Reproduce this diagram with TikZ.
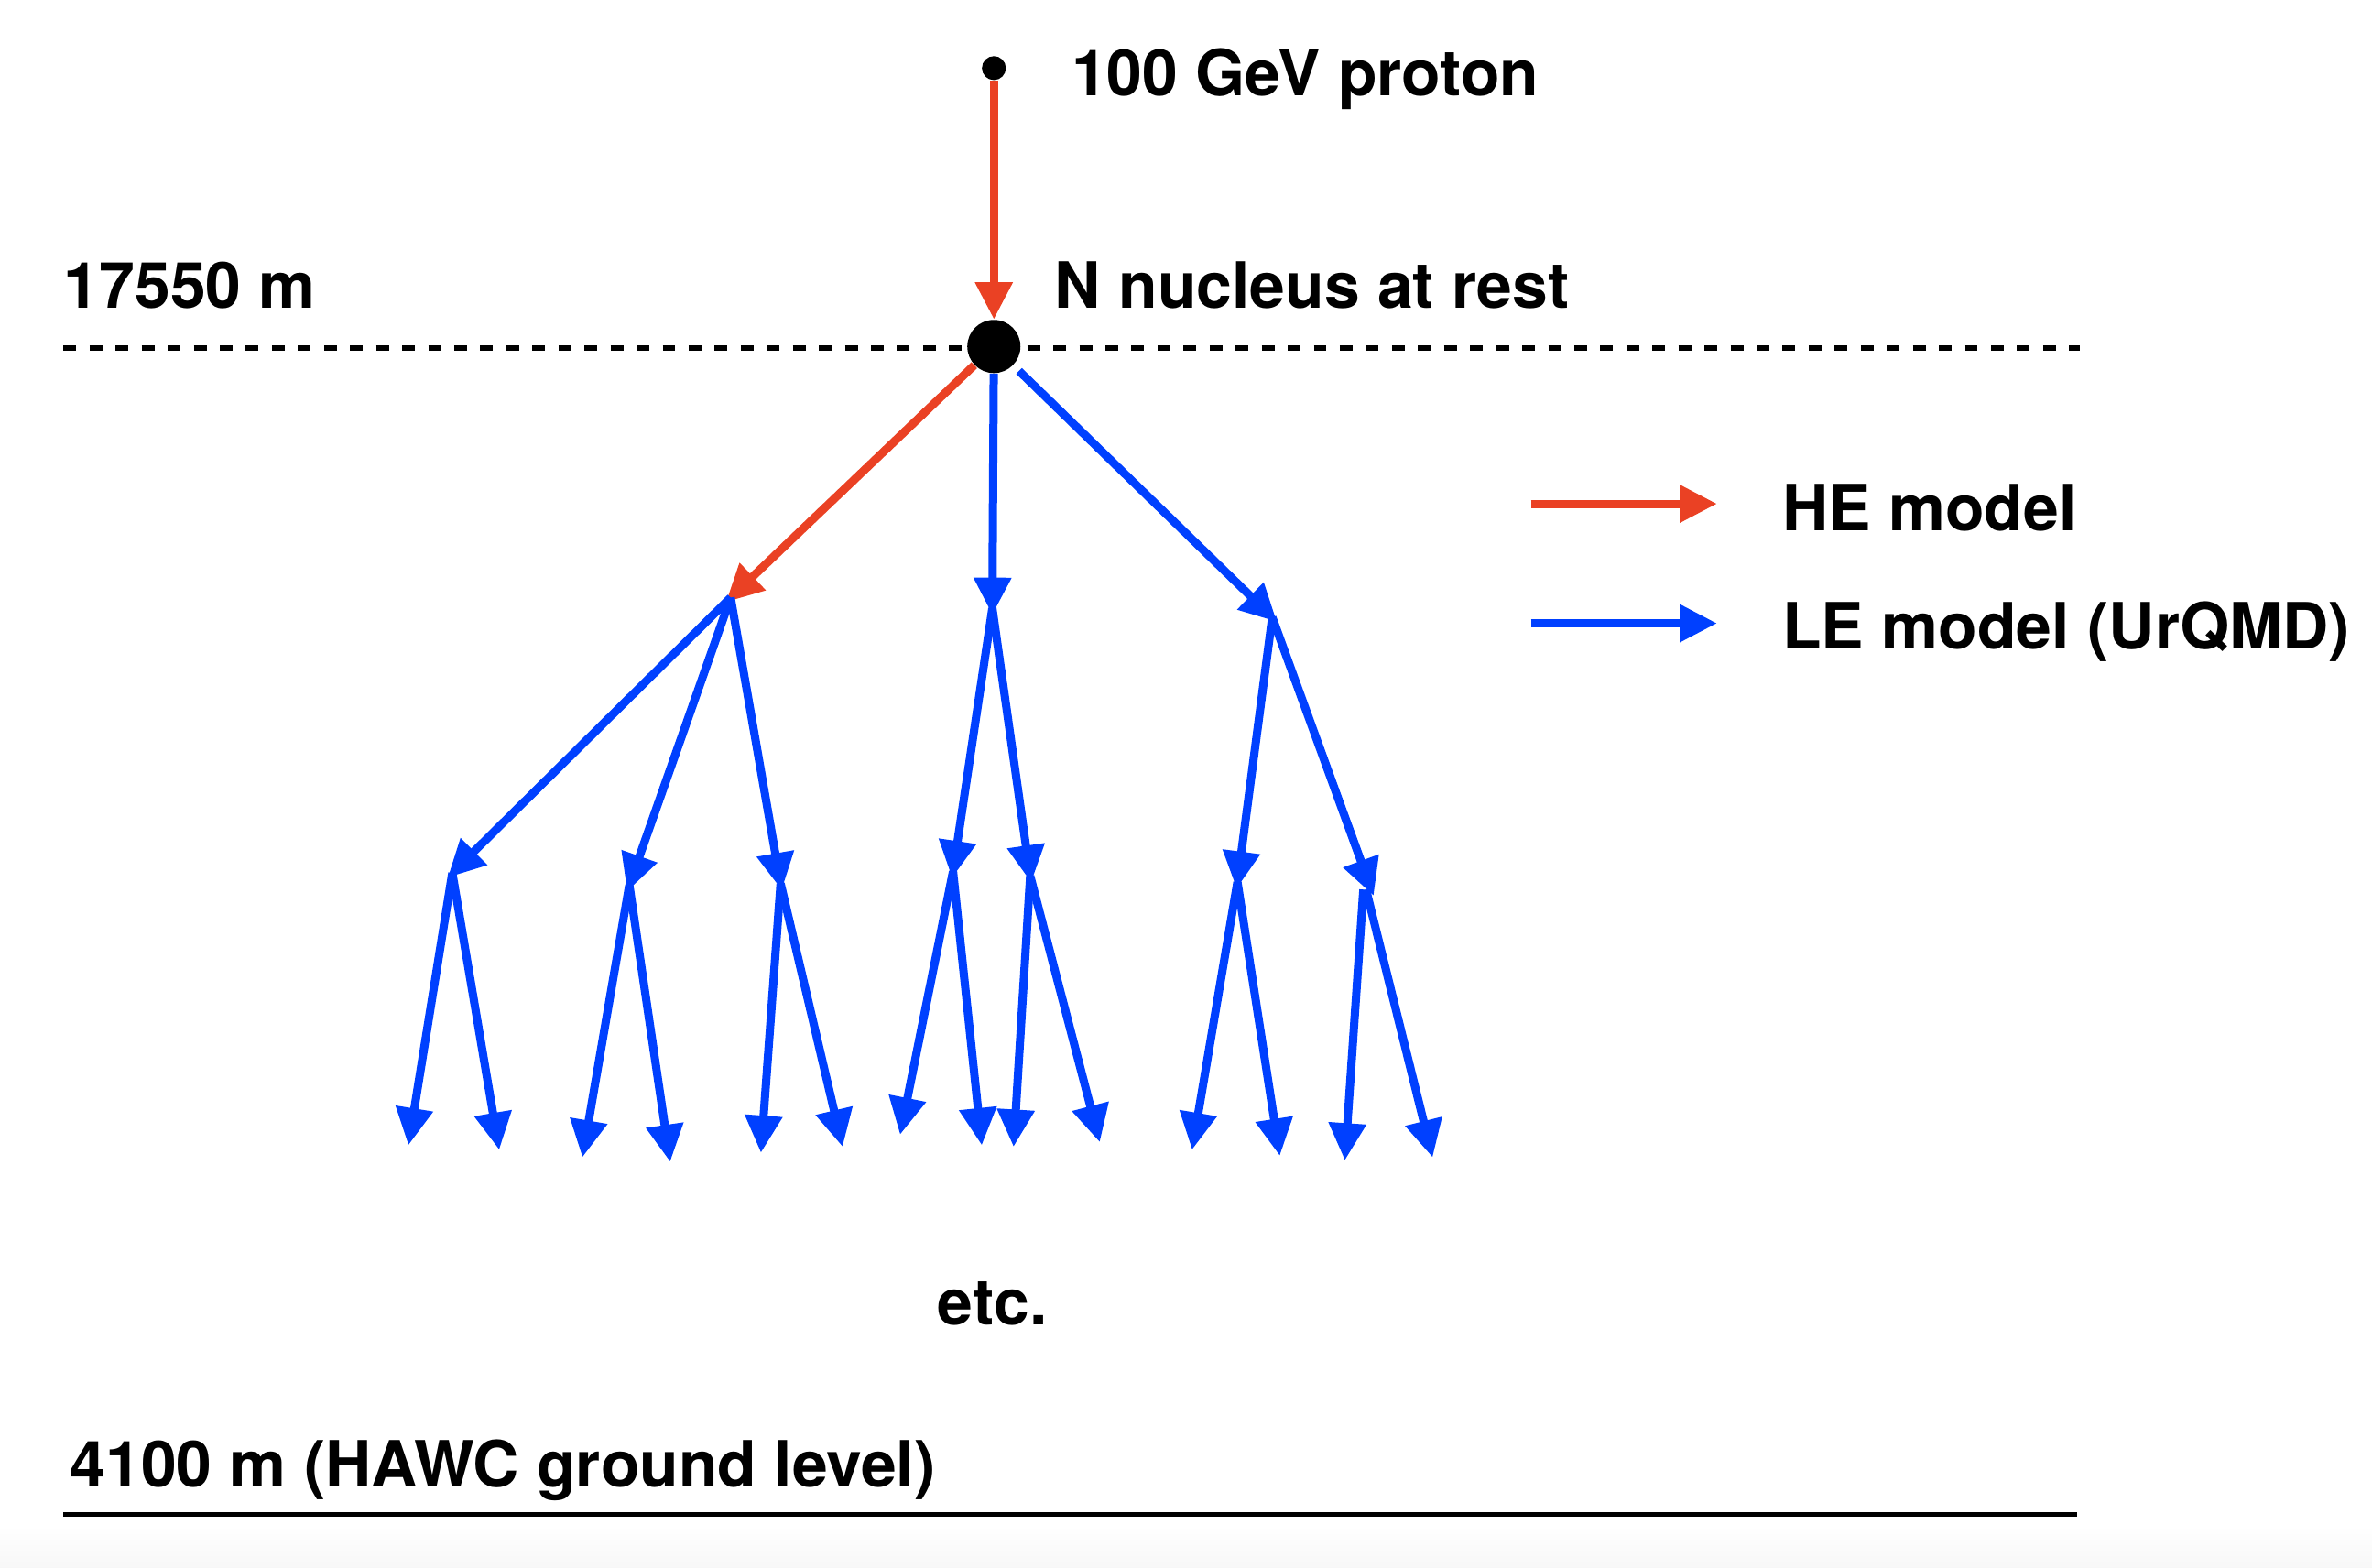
\documentclass[tikz,border=0pt]{standalone}
\usepackage{fontspec}
\setmainfont{TeX Gyre Heros}
\usetikzlibrary{arrows.meta}

\definecolor{hered}{RGB}{234,65,36}
\definecolor{leblue}{RGB}{0,64,255}

\tikzset{
  tip/.style={-{Triangle[length=14pt,width=13.5pt]}},
  he/.style={tip, draw=hered, line width=3.1pt},
  le/.style={tip, draw=leblue, line width=3.1pt},
  into/.style={shorten >=-2.5pt},
  lbl/.style={font=\fontsize{24}{29}\selectfont\bfseries, inner sep=0pt, anchor=base west},
  dot/.style={circle, fill=black, inner sep=0pt}
}

\begin{document}
\begin{tikzpicture}[x=0.02cm, y=-0.02cm]
  \useasboundingbox (0,0) rectangle (1568,1036);
  \shade[top color=white, bottom color=black!3, draw=none] (0,1008) rectangle (1568,1036);

  % levels
  \draw[line width=2.2pt, dash pattern=on 4.8pt off 5pt] (42,230) -- (1375,230);
  \draw[line width=1.6pt] (42,1001) -- (1373,1001);
  \node[lbl] (top)    at (42,204)  {17550 m};
  \node[lbl] (ground) at (46,983)  {4100 m (HAWC ground level)};

  % primary
  \node[dot, minimum size=9pt]  (p)   at (657,45)  {};
  \node[dot, minimum size=20pt] (nuc) at (657,229) {};
  \node[lbl] (plbl) at (708,63)  {100 GeV proton};
  \node[lbl] (nlbl) at (697,204) {N nucleus at rest};

  % vertices of the cascade
  \foreach \n/\x/\y in {a/483/395, b/656/402, c/841/408,
      a1/299/577, a2/416/585, a3/516/584, b1/630/576, b2/681/579, c1/818/583, c2/903/588,
      a1l/270/757, a1r/330/760, a2l/385/765, a2r/443/768, a3l/503/762, a3r/557/758,
      b1l/595/750, b1r/649/757, b2l/670/758, b2r/727/755,
      c1l/788/760, c1r/846/764, c2l/889/767, c2r/947/765}
    \coordinate (\n) at (\x,\y);

  \path[every edge/.style={draw, he}]
        (p) edge (nuc)
        (nuc) edge[into] (a);
  \path[every edge/.style={draw, le}]
        (nuc) edge[into] (b)
              edge[into, shorten <=3pt] (c)
        (a) edge[into] (a1) edge[into] (a2) edge[into] (a3)
        (b) edge[into] (b1) edge[into] (b2)
        (c) edge[into] (c1) edge[into] ([xshift=2pt]c2)
        (a1) edge (a1l) edge (a1r)
        (a2) edge (a2l) edge (a2r)
        (a3) edge (a3l) edge (a3r)
        (b1) edge (b1l) edge (b1r)
        (b2) edge (b2l) edge (b2r)
        (c1) edge (c1l) edge (c1r)
        ([xshift=-1pt]c2) edge (c2l)
        (c2) edge (c2r);

  \node[lbl, anchor=base] (etc) at (656,876) {etc.};

  % legend
  \coordinate (heA) at (1012,333);
  \coordinate (heB) at (1135,333);
  \coordinate (leA) at (1012,412);
  \coordinate (leB) at (1135,412);
  \draw[he] (heA) -- (heB);
  \draw[le] (leA) -- (leB);
  \node[lbl] (helbl) at (1178,351) {HE model};
  \node[lbl] (lelbl) at (1178,429) {LE model (UrQMD)};
\end{tikzpicture}
\end{document}
